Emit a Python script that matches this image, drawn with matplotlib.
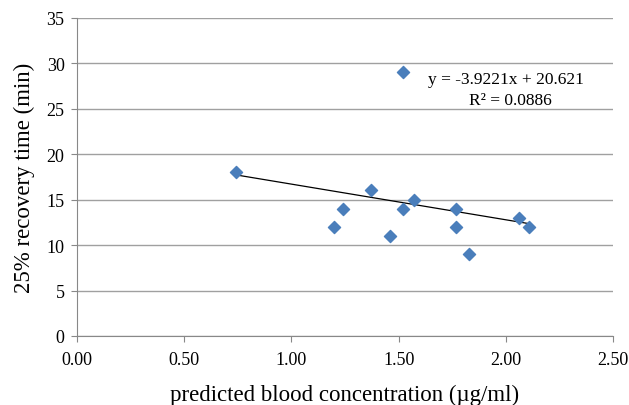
import numpy as np
import matplotlib.pyplot as plt

plt.rcParams['font.family'] = ['Liberation Serif', 'DejaVu Serif']

# predicted blood concentration (ug/ml) vs 25% recovery time (min)
conc = [0.74, 1.20, 1.24, 1.37, 1.46, 1.52, 1.52, 1.57, 1.77, 1.77, 1.83, 2.06, 2.11]
recovery = [18, 12, 14, 16, 11, 14, 29, 15, 14, 12, 9, 13, 12]

slope = -3.9221
intercept = 20.621
r2 = 0.0886

fig = plt.figure(figsize=(6.29, 4.06), dpi=100)
ax = fig.add_axes([77/629, 0.17, 536/629, 0.954-0.17])

ax.set_xlim(0, 2.5)
ax.set_ylim(0, 35)
ax.set_xticks(np.arange(0, 2.51, 0.5))
ax.set_yticks(np.arange(0, 36, 5))
ax.set_xticklabels(['%.2f' % v for v in np.arange(0, 2.51, 0.5)])
ax.yaxis.grid(True, color='#a0a0a0', linewidth=1)
ax.set_axisbelow(True)
for s in ['top', 'right']:
    ax.spines[s].set_visible(False)
for s in ['left', 'bottom']:
    ax.spines[s].set_color('#888888')
ax.tick_params(axis='both', direction='out', length=4, color='#888888', labelsize=13)
ax.tick_params(axis='x', pad=7)
ax.tick_params(axis='y', pad=5)

# trendline over data range
xl = np.array([min(conc), max(conc)])
ax.plot(xl, slope*xl + intercept, color='black', linewidth=0.9, zorder=2)

ax.scatter(conc, recovery, marker='D', s=38, color='#4a7ebb', edgecolors='#4a7ebb', zorder=3)

ax.text(2.0, 28.3, 'y = -3.9221x + 20.621', ha='center', va='center', fontsize=12.5)
ax.text(2.02, 26.0, 'R² = %.4f' % r2, ha='center', va='center', fontsize=12.5)

ax.set_xlabel('predicted blood concentration (µg/ml)', fontsize=16.5, labelpad=11)
ax.set_ylabel('25% recovery time (min)', fontsize=16.5, labelpad=8)

plt.savefig('out.png')
